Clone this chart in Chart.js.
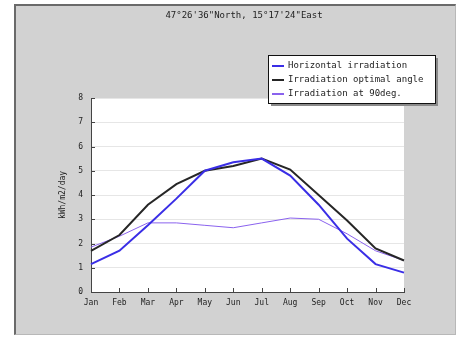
<!DOCTYPE html>
<html>
<head>
<meta charset="utf-8">
<script src="https://cdn.jsdelivr.net/npm/chart.js@4"></script>
<style>
  html, body { margin: 0; padding: 0; background: #fff; }
  #wrap { position: relative; width: 459px; height: 338px; }
  #panel {
    position: absolute; left: 14px; top: 4px; width: 439px; height: 328px;
    background: #d2d2d2;
    border-top: 2px solid #6a6a6a; border-left: 2px solid #6a6a6a;
    border-right: 1px solid #b8b8b8; border-bottom: 1px solid #b8b8b8;
  }
  canvas { position: absolute; left: 0; top: 0; }
</style>
</head>
<body>
<div id="wrap">
  <div id="panel"></div>
  <canvas id="pvChart" width="459" height="338"></canvas>
</div>
<script>
const months = ['Jan', 'Feb', 'Mar', 'Apr', 'May', 'Jun', 'Jul', 'Aug', 'Sep', 'Oct', 'Nov', 'Dec'];
const horizontal = [1.15, 1.7, 2.75, 3.85, 5.0, 5.35, 5.5, 4.8, 3.6, 2.2, 1.15, 0.8];
const optimal = [1.7, 2.35, 3.6, 4.45, 5.0, 5.2, 5.5, 5.05, 4.0, 2.95, 1.8, 1.3];
const vertical90 = [1.85, 2.3, 2.85, 2.85, 2.75, 2.65, 2.85, 3.05, 3.0, 2.4, 1.7, 1.3];
const chartTitle = '47\u00b026\'36"North, 15\u00b017\'24"East';
const yTitle = 'kWh/m2/day';

const mono = '"DejaVu Sans Mono", "Liberation Mono", monospace';

// title, y axis name, inner ticks and the boxed legend
const decorations = {
  id: 'decorations',
  beforeDraw(chart) {
    const { ctx, chartArea } = chart;
    ctx.save();
    ctx.fillStyle = '#ffffff';
    ctx.fillRect(chartArea.left, chartArea.top, chartArea.right - chartArea.left, chartArea.bottom - chartArea.top);
    ctx.restore();
  },
  afterDraw(chart) {
    const { ctx, chartArea, scales } = chart;
    ctx.save();
    ctx.fillStyle = '#222';
    ctx.font = '9px ' + mono;
    ctx.textAlign = 'center';
    ctx.textBaseline = 'middle';
    ctx.fillText(chartTitle, 244, 16);

    ctx.save();
    ctx.translate(63, (chartArea.top + chartArea.bottom) / 2);
    ctx.rotate(-Math.PI / 2);
    ctx.font = '8px ' + mono;
    ctx.fillText(yTitle, 0, 0);
    ctx.restore();

    // small ticks pointing into the plot
    ctx.strokeStyle = '#444';
    ctx.lineWidth = 1;
    ctx.beginPath();
    months.forEach((m, i) => {
      const x = Math.round(scales.x.getPixelForValue(i)) + 0.5;
      ctx.moveTo(x, chartArea.bottom);
      ctx.lineTo(x, chartArea.bottom - 4);
    });
    for (let v = 0; v <= 8; v++) {
      const y = Math.round(scales.y.getPixelForValue(v)) + 0.5;
      ctx.moveTo(chartArea.left, y);
      ctx.lineTo(chartArea.left + 4, y);
    }
    ctx.stroke();

    // legend box
    const bx = 268, by = 55, bw = 167, bh = 48;
    ctx.fillStyle = '#8a8a8a';
    ctx.fillRect(bx + 3, by + 3, bw, bh);
    ctx.fillStyle = '#ffffff';
    ctx.fillRect(bx, by, bw, bh);
    ctx.strokeStyle = '#111';
    ctx.strokeRect(bx + 0.5, by + 0.5, bw, bh);
    ctx.textAlign = 'left';
    ctx.font = '9px ' + mono;
    chart.data.datasets.forEach((ds, i) => {
      const y = by + 11 + i * 14;
      ctx.strokeStyle = ds.borderColor;
      ctx.lineWidth = 2;
      ctx.beginPath();
      ctx.moveTo(bx + 4, y);
      ctx.lineTo(bx + 16, y);
      ctx.stroke();
      ctx.fillStyle = '#222';
      ctx.fillText(ds.label, bx + 20, y);
    });
    ctx.restore();
  }
};

new Chart(document.getElementById('pvChart'), {
  type: 'line',
  data: {
    labels: months,
    datasets: [
      { label: 'Horizontal irradiation', data: horizontal, borderColor: '#3a2ee6', borderWidth: 2 },
      { label: 'Irradiation optimal angle', data: optimal, borderColor: '#262626', borderWidth: 2 },
      { label: 'Irradiation at 90deg.', data: vertical90, borderColor: '#8a62ee', borderWidth: 1 }
    ]
  },
  options: {
    responsive: false,
    animation: false,
    events: [],
    layout: { padding: { top: 98, right: 55, left: 0, bottom: 0 } },
    elements: { point: { radius: 0 }, line: { tension: 0 } },
    plugins: { legend: { display: false }, tooltip: { enabled: false }, title: { display: false } },
    scales: {
      x: {
        offset: false,
        grid: { drawOnChartArea: false, drawTicks: false, color: '#444' },
        border: { color: '#444' },
        ticks: { color: '#222', font: { family: mono, size: 8 }, padding: 6, maxRotation: 0, autoSkip: false },
        afterFit(scale) { scale.height = 46; }
      },
      y: {
        min: 0, max: 8,
        grid: { color: '#e6e6e6', drawTicks: false },
        border: { color: '#444' },
        ticks: { stepSize: 1, color: '#222', font: { family: mono, size: 8 }, padding: 8 },
        afterFit(scale) { scale.width = 91; }
      }
    }
  },
  plugins: [decorations]
});
</script>
</body>
</html>
